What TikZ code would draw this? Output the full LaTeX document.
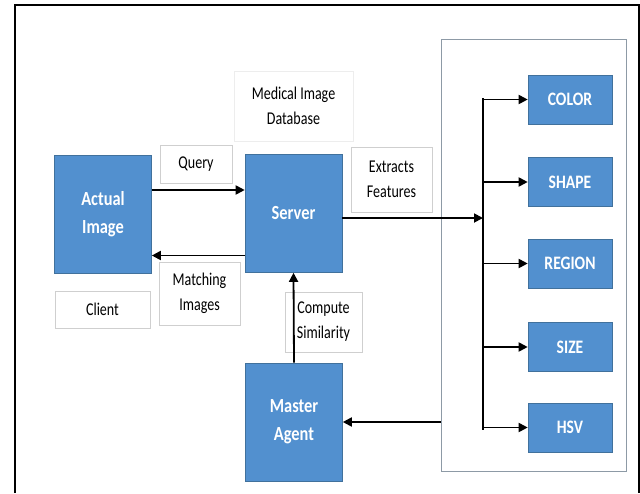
\documentclass[tikz,border=0pt]{standalone}
\usepackage{fontspec}
\setmainfont{Carlito}
\newfontfamily\tagfont{Carlito}[FakeStretch=0.78]
\newfontfamily\blockfont{Carlito}[FakeStretch=0.82]
\usetikzlibrary{arrows.meta, positioning, calc}
\definecolor{cblue}{HTML}{5290CF}
\definecolor{cedge}{HTML}{41719C}
\definecolor{cpanel}{HTML}{8D9AA6}
\definecolor{clabel}{HTML}{CFCFCF}
\tikzset{
  every picture/.style={line width=1.8pt},
  block/.style={draw=cedge, line width=0.6pt, fill=cblue, text=white, align=center, inner sep=0pt,
    font=\blockfont\fontsize{20}{28}\selectfont\bfseries, minimum width=97pt, minimum height=118pt},
  feat/.style={block, font=\blockfont\fontsize{19}{22}\selectfont\bfseries, minimum width=84pt, minimum height=49pt},
  tag/.style={draw=clabel, line width=0.6pt, fill=white, align=center, inner sep=0pt,
    font=\tagfont\fontsize{18}{25}\selectfont},
  arrow/.style={-{Triangle[length=9pt, width=9pt]}, line width=1.8pt},
}

\begin{document}
\begin{tikzpicture}[x=1pt, y=-1pt]
  \useasboundingbox (0,0) rectangle (640,493);
  % frame of the figure
  \draw[line width=1.2pt] (15,493) -- (15,5) -- (639,5) -- (639,493);
  % panel of the features
  \node[draw=cpanel, line width=1pt, minimum width=185pt, minimum height=432pt, inner sep=0pt] (panel) at (533.5,255) {};
  % main blocks
  \node[block] (actual) at (103,214) {Actual\\Image};
  \node[block] (server) at (293.5,213.5) {Server};
  \node[block] (master) at (294,422) {Master\\Agent};
  % labels
  \node[tag, draw=black!7, minimum width=119pt, minimum height=70pt] (db) at (293.5,106) {Medical Image\\Database};
  \node[tag, minimum width=72pt, minimum height=38pt] (query) at (196,164) {Query};
  \node[tag, minimum width=81pt, minimum height=63pt] (matching) at (199.5,293.5) {Matching\\Images};
  \node[tag, minimum width=95pt, minimum height=37pt] (client) at (102.5,309.5) {Client};
  \node[tag, minimum width=81pt, minimum height=65pt] (extracts) at (391.5,179.5) {Extracts\\Features};
  \node[tag, minimum width=77pt, minimum height=60pt] (compute) at (323.5,322) {Compute\\Similarity};
  % features
  \foreach \nm/\txt/\y in {color/COLOR/99.5, shape/SHAPE/182, region/REGION/263.5, size/SIZE/347, hsv/HSV/427.5}
    \node[feat] (\nm) at (570,\y) {\txt};
  \coordinate (bustop) at (483,98);
  \coordinate (busbot) at (483,430);
  \draw (bustop) -- (busbot);
  \foreach \nm in {color, shape, region, size, hsv}
    \draw[arrow] (\nm.west -| bustop) -- (\nm.west);
  % connectors
  \draw[arrow] ([yshift=24pt]actual.east) -- ([yshift=24pt]actual.east -| server.west);
  \draw[arrow] ([yshift=-42pt]server.west) -- ([yshift=-42pt]server.west -| actual.east);
  \draw[arrow] ([yshift=-4.5pt]server.east) -- ([yshift=-4.5pt]server.east -| bustop);
  \draw[arrow] (master.north) -- (server.south);
  \draw[arrow] (panel.west |- master.east) -- (master.east);
\end{tikzpicture}
\end{document}
